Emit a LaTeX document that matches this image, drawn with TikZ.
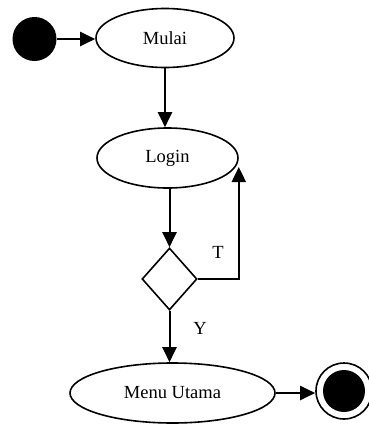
\documentclass[tikz,border=0pt]{standalone}
\usepackage{fontspec}
\setmainfont{Liberation Serif}
\usetikzlibrary{shapes.geometric,arrows.meta}
\begin{document}
\begin{tikzpicture}[x=1pt,y=-1pt,
  every node/.style={font=\fontsize{18.5}{22}\selectfont},
  state/.style={draw, ellipse, line width=1.6pt, inner sep=0pt},
  arr/.style={line width=2pt, -{Triangle[length=15pt,width=14pt]}},
  decbox/.style={draw, diamond, line width=1.6pt, inner sep=0pt, minimum width=55pt, minimum height=62pt},
  lbl/.style={inner sep=0pt}]
\useasboundingbox (0,0) rectangle (368,424);
\fill[white] (0,0) rectangle (368,424);
\node[circle, fill=black, minimum size=44pt, inner sep=0pt] (start) at (34.5,39) {};
\node[state, minimum width=138pt, minimum height=59pt] (mulai) at (165,38) {Mulai};
\node[state, minimum width=141pt, minimum height=60pt] (login) at (167.5,158) {Login};
\node[decbox] (dec) at (169.5,279) {};
\node[state, minimum width=205pt, minimum height=60pt] (menu) at (172.5,393) {Menu Utama};
\node[circle, draw, line width=1.6pt, minimum size=56pt, inner sep=0pt] (endc) at (344,391) {};
\node[circle, fill=black, minimum size=42pt, inner sep=0pt] (endin) at (endc.center) {};
\node[lbl] (tl) at (218,252) {T};
\node[lbl] (yl) at (200,328) {Y};
\draw[arr] (start) -- (start -| mulai.west);
\draw[arr] (mulai) -- (mulai |- login.north);
\draw[arr] (dec.north |- login.south) -- (dec.north);
\draw[arr] (dec.east) -| ([yshift=-9pt]login.east);
\draw[arr] (dec.south) -- (dec.south |- menu.north);
\draw[arr] (menu.east) -- (menu.east -| endc.west);
\end{tikzpicture}
\end{document}
